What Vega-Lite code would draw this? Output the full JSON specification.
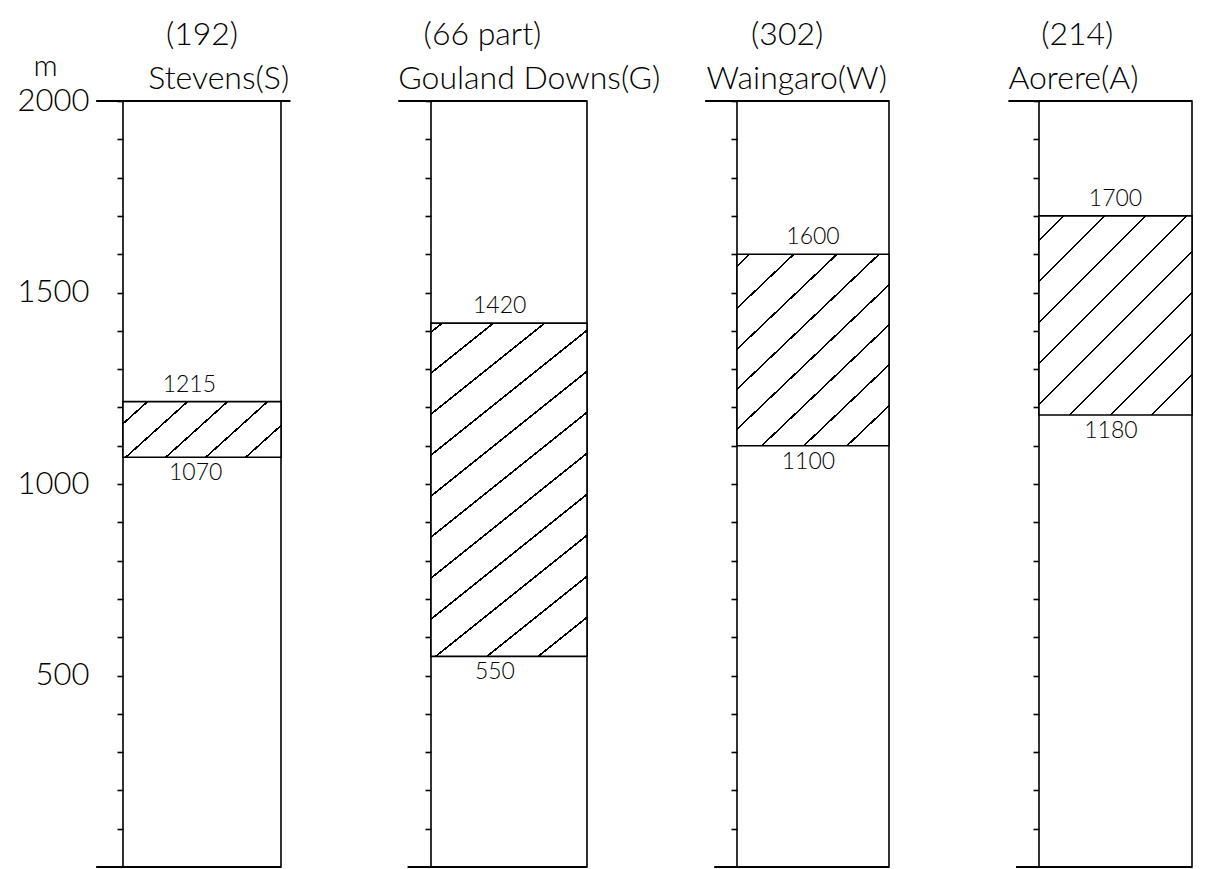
{
  "$schema": "https://vega.github.io/schema/vega-lite/v6.json",
  "autosize": {"type": "pad"},
  "padding": {"left": 16, "top": 18, "right": 5, "bottom": 2},
  "background": "white",
  "datasets": {
    "zones": [
      {"site": "Stevens(S)", "ref": "(192)", "lower": 1070, "upper": 1215},
      {"site": "Gouland Downs(G)", "ref": "(66 part)", "lower": 550, "upper": 1420},
      {"site": "Waingaro(W)", "ref": "(302)", "lower": 1100, "upper": 1600},
      {"site": "Aorere(A)", "ref": "(214)", "lower": 1180, "upper": 1700}
    ]
  },
  "bounds": "flush",
  "spacing": 150,
  "hconcat": [
    {
      "data": {"name": "zones"},
      "transform": [{"filter": "datum.site === 'Stevens(S)'"}],
      "width": 158,
      "height": 766,
      "layer": [
        {
          "mark": {"type": "rect", "stroke": "black", "strokeWidth": 1.6,
            "fill": {"gradient": "linear", "x1": 0, "y1": 0, "x2": 1.2065, "y2": 0.4709,
              "stops": [
                {"offset": 0, "color": "white"},
                {"offset": 0.1057, "color": "white"}, {"offset": 0.1057, "color": "black"}, {"offset": 0.1169, "color": "black"}, {"offset": 0.1169, "color": "white"},
                {"offset": 0.2878, "color": "white"}, {"offset": 0.2878, "color": "black"}, {"offset": 0.2990, "color": "black"}, {"offset": 0.2990, "color": "white"},
                {"offset": 0.4699, "color": "white"}, {"offset": 0.4699, "color": "black"}, {"offset": 0.4811, "color": "black"}, {"offset": 0.4811, "color": "white"},
                {"offset": 0.6520, "color": "white"}, {"offset": 0.6520, "color": "black"}, {"offset": 0.6632, "color": "black"}, {"offset": 0.6632, "color": "white"},
                {"offset": 0.8341, "color": "white"}, {"offset": 0.8341, "color": "black"}, {"offset": 0.8453, "color": "black"}, {"offset": 0.8453, "color": "white"},
                {"offset": 1, "color": "white"}
              ]}},
          "encoding": {
            "x": {"datum": 0, "type": "quantitative", "scale": {"domain": [0, 1], "nice": false, "zero": false}, "axis": null},
            "x2": {"datum": 1},
            "y": {"field": "upper", "type": "quantitative", "scale": {"domain": [0, 2000], "nice": false},
              "axis": {"values": [100,200,300,400,500,600,700,800,900,1000,1100,1200,1300,1400,1500,1600,1700,1800,1900,2000],
                "format": "d", "labelExpr": "datum.value % 500 === 0 ? datum.label : ''",
                "title": "m", "titleAngle": 0, "titleX": -78, "titleY": -26, "titleAlign": "center", "titleBaseline": "alphabetic",
                "titleFont": "Lato", "titleFontSize": 30, "titleFontWeight": 300, "titleColor": "black"}},
            "y2": {"field": "lower"}
          }
        },
        {
          "mark": {"type": "rule", "color": "black", "strokeWidth": 2},
          "encoding": {"x": {"datum": -0.17, "type": "quantitative"}, "x2": {"datum": 1.06}, "y": {"datum": 2000, "type": "quantitative"}}
        },
        {
          "mark": {"type": "rule", "color": "black", "strokeWidth": 2},
          "encoding": {"x": {"datum": -0.17, "type": "quantitative"}, "x2": {"datum": 1}, "y": {"datum": 0, "type": "quantitative"}}
        },
        {
          "mark": {"type": "text", "baseline": "bottom", "dy": -5, "fontSize": 23, "fontWeight": 300, "font": "Lato", "color": "black"},
          "encoding": {"x": {"datum": 0.42, "type": "quantitative"}, "y": {"field": "upper", "type": "quantitative"}, "text": {"field": "upper", "type": "quantitative", "format": "d"}}
        },
        {
          "mark": {"type": "text", "baseline": "top", "dy": 5, "fontSize": 23, "fontWeight": 300, "font": "Lato", "color": "black"},
          "encoding": {"x": {"datum": 0.46, "type": "quantitative"}, "y": {"field": "lower", "type": "quantitative"}, "text": {"field": "lower", "type": "quantitative", "format": "d"}}
        },
        {
          "mark": {"type": "text", "align": "left", "baseline": "alphabetic", "dy": -12, "fontSize": 32, "fontWeight": 300, "font": "Lato", "color": "black"},
          "encoding": {"x": {"datum": 0.16, "type": "quantitative"}, "y": {"datum": 2000, "type": "quantitative"}, "text": {"field": "site"}}
        },
        {
          "mark": {"type": "text", "align": "center", "baseline": "alphabetic", "dy": -56, "fontSize": 32, "fontWeight": 300, "font": "Lato", "color": "black"},
          "encoding": {"x": {"datum": 0.5, "type": "quantitative"}, "y": {"datum": 2000, "type": "quantitative"}, "text": {"field": "ref"}}
        }
      ]
    },
    {
      "data": {"name": "zones"},
      "transform": [{"filter": "datum.site === 'Gouland Downs(G)'"}],
      "width": 156,
      "height": 766,
      "layer": [
        {
          "mark": {"type": "rect", "stroke": "black", "strokeWidth": 1.6,
            "fill": {"gradient": "linear", "x1": 0, "y1": 0, "x2": 0.4515, "y2": 1.2055,
              "stops": [
                {"offset": 0, "color": "white"},
                {"offset": 0.0173, "color": "white"}, {"offset": 0.0173, "color": "black"}, {"offset": 0.0221, "color": "black"}, {"offset": 0.0221, "color": "white"},
                {"offset": 0.1068, "color": "white"}, {"offset": 0.1068, "color": "black"}, {"offset": 0.1116, "color": "black"}, {"offset": 0.1116, "color": "white"},
                {"offset": 0.1963, "color": "white"}, {"offset": 0.1963, "color": "black"}, {"offset": 0.2011, "color": "black"}, {"offset": 0.2011, "color": "white"},
                {"offset": 0.2858, "color": "white"}, {"offset": 0.2858, "color": "black"}, {"offset": 0.2906, "color": "black"}, {"offset": 0.2906, "color": "white"},
                {"offset": 0.3753, "color": "white"}, {"offset": 0.3753, "color": "black"}, {"offset": 0.3801, "color": "black"}, {"offset": 0.3801, "color": "white"},
                {"offset": 0.4648, "color": "white"}, {"offset": 0.4648, "color": "black"}, {"offset": 0.4696, "color": "black"}, {"offset": 0.4696, "color": "white"},
                {"offset": 0.5544, "color": "white"}, {"offset": 0.5544, "color": "black"}, {"offset": 0.5592, "color": "black"}, {"offset": 0.5592, "color": "white"},
                {"offset": 0.6439, "color": "white"}, {"offset": 0.6439, "color": "black"}, {"offset": 0.6487, "color": "black"}, {"offset": 0.6487, "color": "white"},
                {"offset": 0.7334, "color": "white"}, {"offset": 0.7334, "color": "black"}, {"offset": 0.7382, "color": "black"}, {"offset": 0.7382, "color": "white"},
                {"offset": 0.8229, "color": "white"}, {"offset": 0.8229, "color": "black"}, {"offset": 0.8277, "color": "black"}, {"offset": 0.8277, "color": "white"},
                {"offset": 0.9124, "color": "white"}, {"offset": 0.9124, "color": "black"}, {"offset": 0.9172, "color": "black"}, {"offset": 0.9172, "color": "white"},
                {"offset": 1, "color": "white"}
              ]}},
          "encoding": {
            "x": {"datum": 0, "type": "quantitative", "scale": {"domain": [0, 1], "nice": false, "zero": false}, "axis": null},
            "x2": {"datum": 1},
            "y": {"field": "upper", "type": "quantitative", "scale": {"domain": [0, 2000], "nice": false},
              "axis": {"values": [100,200,300,400,500,600,700,800,900,1000,1100,1200,1300,1400,1500,1600,1700,1800,1900,2000], "labels": false, "title": null}},
            "y2": {"field": "lower"}
          }
        },
        {
          "mark": {"type": "rule", "color": "black", "strokeWidth": 2},
          "encoding": {"x": {"datum": -0.21, "type": "quantitative"}, "x2": {"datum": 1}, "y": {"datum": 2000, "type": "quantitative"}}
        },
        {
          "mark": {"type": "rule", "color": "black", "strokeWidth": 2},
          "encoding": {"x": {"datum": -0.15, "type": "quantitative"}, "x2": {"datum": 1}, "y": {"datum": 0, "type": "quantitative"}}
        },
        {
          "mark": {"type": "text", "baseline": "bottom", "dy": -5, "fontSize": 23, "fontWeight": 300, "font": "Lato", "color": "black"},
          "encoding": {"x": {"datum": 0.44, "type": "quantitative"}, "y": {"field": "upper", "type": "quantitative"}, "text": {"field": "upper", "type": "quantitative", "format": "d"}}
        },
        {
          "mark": {"type": "text", "baseline": "top", "dy": 5, "fontSize": 23, "fontWeight": 300, "font": "Lato", "color": "black"},
          "encoding": {"x": {"datum": 0.41, "type": "quantitative"}, "y": {"field": "lower", "type": "quantitative"}, "text": {"field": "lower", "type": "quantitative", "format": "d"}}
        },
        {
          "mark": {"type": "text", "align": "left", "baseline": "alphabetic", "dy": -12, "fontSize": 32, "fontWeight": 300, "font": "Lato", "color": "black"},
          "encoding": {"x": {"datum": -0.21, "type": "quantitative"}, "y": {"datum": 2000, "type": "quantitative"}, "text": {"field": "site"}}
        },
        {
          "mark": {"type": "text", "align": "center", "baseline": "alphabetic", "dy": -56, "fontSize": 32, "fontWeight": 300, "font": "Lato", "color": "black"},
          "encoding": {"x": {"datum": 0.33, "type": "quantitative"}, "y": {"datum": 2000, "type": "quantitative"}, "text": {"field": "ref"}}
        }
      ]
    },
    {
      "data": {"name": "zones"},
      "transform": [{"filter": "datum.site === 'Waingaro(W)'"}],
      "width": 152,
      "height": 766,
      "layer": [
        {
          "mark": {"type": "rect", "stroke": "black", "strokeWidth": 1.6,
            "fill": {"gradient": "linear", "x1": 0, "y1": 0, "x2": 0.8432, "y2": 1.1182,
              "stops": [
                {"offset": 0, "color": "white"},
                {"offset": 0.0324, "color": "white"}, {"offset": 0.0324, "color": "black"}, {"offset": 0.0390, "color": "black"}, {"offset": 0.0390, "color": "white"},
                {"offset": 0.1575, "color": "white"}, {"offset": 0.1575, "color": "black"}, {"offset": 0.1641, "color": "black"}, {"offset": 0.1641, "color": "white"},
                {"offset": 0.2795, "color": "white"}, {"offset": 0.2795, "color": "black"}, {"offset": 0.2861, "color": "black"}, {"offset": 0.2861, "color": "white"},
                {"offset": 0.3986, "color": "white"}, {"offset": 0.3986, "color": "black"}, {"offset": 0.4052, "color": "black"}, {"offset": 0.4052, "color": "white"},
                {"offset": 0.5177, "color": "white"}, {"offset": 0.5177, "color": "black"}, {"offset": 0.5243, "color": "black"}, {"offset": 0.5243, "color": "white"},
                {"offset": 0.6368, "color": "white"}, {"offset": 0.6368, "color": "black"}, {"offset": 0.6434, "color": "black"}, {"offset": 0.6434, "color": "white"},
                {"offset": 0.7559, "color": "white"}, {"offset": 0.7559, "color": "black"}, {"offset": 0.7625, "color": "black"}, {"offset": 0.7625, "color": "white"},
                {"offset": 0.8779, "color": "white"}, {"offset": 0.8779, "color": "black"}, {"offset": 0.8845, "color": "black"}, {"offset": 0.8845, "color": "white"},
                {"offset": 1, "color": "white"}
              ]}},
          "encoding": {
            "x": {"datum": 0, "type": "quantitative", "scale": {"domain": [0, 1], "nice": false, "zero": false}, "axis": null},
            "x2": {"datum": 1},
            "y": {"field": "upper", "type": "quantitative", "scale": {"domain": [0, 2000], "nice": false},
              "axis": {"values": [100,200,300,400,500,600,700,800,900,1000,1100,1200,1300,1400,1500,1600,1700,1800,1900,2000], "labels": false, "title": null}},
            "y2": {"field": "lower"}
          }
        },
        {
          "mark": {"type": "rule", "color": "black", "strokeWidth": 2},
          "encoding": {"x": {"datum": -0.21, "type": "quantitative"}, "x2": {"datum": 1}, "y": {"datum": 2000, "type": "quantitative"}}
        },
        {
          "mark": {"type": "rule", "color": "black", "strokeWidth": 2},
          "encoding": {"x": {"datum": -0.15, "type": "quantitative"}, "x2": {"datum": 1}, "y": {"datum": 0, "type": "quantitative"}}
        },
        {
          "mark": {"type": "text", "baseline": "bottom", "dy": -5, "fontSize": 23, "fontWeight": 300, "font": "Lato", "color": "black"},
          "encoding": {"x": {"datum": 0.5, "type": "quantitative"}, "y": {"field": "upper", "type": "quantitative"}, "text": {"field": "upper", "type": "quantitative", "format": "d"}}
        },
        {
          "mark": {"type": "text", "baseline": "top", "dy": 5, "fontSize": 23, "fontWeight": 300, "font": "Lato", "color": "black"},
          "encoding": {"x": {"datum": 0.47, "type": "quantitative"}, "y": {"field": "lower", "type": "quantitative"}, "text": {"field": "lower", "type": "quantitative", "format": "d"}}
        },
        {
          "mark": {"type": "text", "align": "left", "baseline": "alphabetic", "dy": -12, "fontSize": 32, "fontWeight": 300, "font": "Lato", "color": "black"},
          "encoding": {"x": {"datum": -0.2, "type": "quantitative"}, "y": {"datum": 2000, "type": "quantitative"}, "text": {"field": "site"}}
        },
        {
          "mark": {"type": "text", "align": "center", "baseline": "alphabetic", "dy": -56, "fontSize": 32, "fontWeight": 300, "font": "Lato", "color": "black"},
          "encoding": {"x": {"datum": 0.33, "type": "quantitative"}, "y": {"datum": 2000, "type": "quantitative"}, "text": {"field": "ref"}}
        }
      ]
    },
    {
      "data": {"name": "zones"},
      "transform": [{"filter": "datum.site === 'Aorere(A)'"}],
      "width": 153,
      "height": 766,
      "layer": [
        {
          "mark": {"type": "rect", "stroke": "black", "strokeWidth": 1.6,
            "fill": {"gradient": "linear", "x1": 0, "y1": 0, "x2": 0.8541, "y2": 1.1119,
              "stops": [
                {"offset": 0, "color": "white"},
                {"offset": 0.0680, "color": "white"}, {"offset": 0.0680, "color": "black"}, {"offset": 0.0740, "color": "black"}, {"offset": 0.0740, "color": "white"},
                {"offset": 0.1844, "color": "white"}, {"offset": 0.1844, "color": "black"}, {"offset": 0.1904, "color": "black"}, {"offset": 0.1904, "color": "white"},
                {"offset": 0.3008, "color": "white"}, {"offset": 0.3008, "color": "black"}, {"offset": 0.3068, "color": "black"}, {"offset": 0.3068, "color": "white"},
                {"offset": 0.4172, "color": "white"}, {"offset": 0.4172, "color": "black"}, {"offset": 0.4232, "color": "black"}, {"offset": 0.4232, "color": "white"},
                {"offset": 0.5336, "color": "white"}, {"offset": 0.5336, "color": "black"}, {"offset": 0.5396, "color": "black"}, {"offset": 0.5396, "color": "white"},
                {"offset": 0.6500, "color": "white"}, {"offset": 0.6500, "color": "black"}, {"offset": 0.6560, "color": "black"}, {"offset": 0.6560, "color": "white"},
                {"offset": 0.7665, "color": "white"}, {"offset": 0.7665, "color": "black"}, {"offset": 0.7725, "color": "black"}, {"offset": 0.7725, "color": "white"},
                {"offset": 0.8829, "color": "white"}, {"offset": 0.8829, "color": "black"}, {"offset": 0.8889, "color": "black"}, {"offset": 0.8889, "color": "white"},
                {"offset": 1, "color": "white"}
              ]}},
          "encoding": {
            "x": {"datum": 0, "type": "quantitative", "scale": {"domain": [0, 1], "nice": false, "zero": false}, "axis": null},
            "x2": {"datum": 1},
            "y": {"field": "upper", "type": "quantitative", "scale": {"domain": [0, 2000], "nice": false},
              "axis": {"values": [100,200,300,400,500,600,700,800,900,1000,1100,1200,1300,1400,1500,1600,1700,1800,1900,2000], "labels": false, "title": null}},
            "y2": {"field": "lower"}
          }
        },
        {
          "mark": {"type": "rule", "color": "black", "strokeWidth": 2},
          "encoding": {"x": {"datum": -0.2, "type": "quantitative"}, "x2": {"datum": 1}, "y": {"datum": 2000, "type": "quantitative"}}
        },
        {
          "mark": {"type": "rule", "color": "black", "strokeWidth": 2},
          "encoding": {"x": {"datum": -0.15, "type": "quantitative"}, "x2": {"datum": 1}, "y": {"datum": 0, "type": "quantitative"}}
        },
        {
          "mark": {"type": "text", "baseline": "bottom", "dy": -5, "fontSize": 23, "fontWeight": 300, "font": "Lato", "color": "black"},
          "encoding": {"x": {"datum": 0.5, "type": "quantitative"}, "y": {"field": "upper", "type": "quantitative"}, "text": {"field": "upper", "type": "quantitative", "format": "d"}}
        },
        {
          "mark": {"type": "text", "baseline": "top", "dy": 5, "fontSize": 23, "fontWeight": 300, "font": "Lato", "color": "black"},
          "encoding": {"x": {"datum": 0.47, "type": "quantitative"}, "y": {"field": "lower", "type": "quantitative"}, "text": {"field": "lower", "type": "quantitative", "format": "d"}}
        },
        {
          "mark": {"type": "text", "align": "left", "baseline": "alphabetic", "dy": -12, "fontSize": 32, "fontWeight": 300, "font": "Lato", "color": "black"},
          "encoding": {"x": {"datum": -0.2, "type": "quantitative"}, "y": {"datum": 2000, "type": "quantitative"}, "text": {"field": "site"}}
        },
        {
          "mark": {"type": "text", "align": "center", "baseline": "alphabetic", "dy": -56, "fontSize": 32, "fontWeight": 300, "font": "Lato", "color": "black"},
          "encoding": {"x": {"datum": 0.25, "type": "quantitative"}, "y": {"datum": 2000, "type": "quantitative"}, "text": {"field": "ref"}}
        }
      ]
    }
  ],
  "config": {
    "view": {"stroke": "black", "strokeWidth": 1.6},
    "font": "Lato",
    "axis": {
      "domain": false, "grid": false,
      "ticks": true, "tickSize": 6, "tickColor": "black", "tickWidth": 1.6,
      "labelFont": "Lato", "labelFontSize": 31, "labelFontWeight": 300, "labelColor": "black", "labelPadding": 28
    }
  }
}
